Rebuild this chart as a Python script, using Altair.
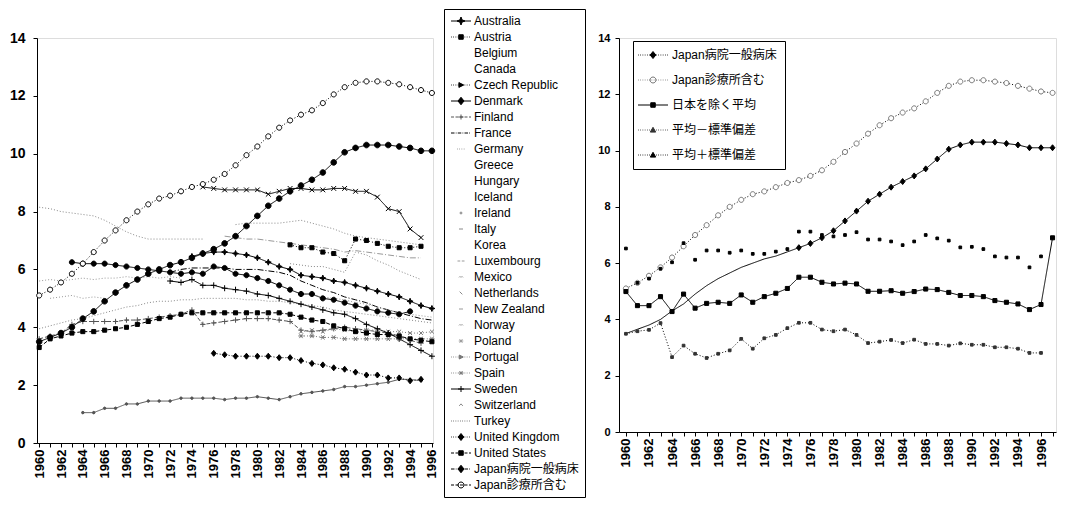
import altair as alt
import pandas as pd

FONT = "Liberation Sans, Noto Sans CJK JP, sans-serif"

# ---------------------------------------------------------------- data
YEARS = list(range(1960, 1998))

JP_HOSP = [3.5, 3.65, 3.8, 4.0, 4.3, 4.55, 4.9, 5.2, 5.45, 5.65,
           5.85, 6.0, 6.15, 6.25, 6.4, 6.55, 6.7, 6.9, 7.15, 7.5,
           7.85, 8.2, 8.45, 8.7, 8.9, 9.1, 9.35, 9.7, 10.05, 10.2,
           10.3, 10.3, 10.3, 10.25, 10.2, 10.1, 10.1, 10.1]
JP_CLINIC = [5.1, 5.3, 5.55, 5.85, 6.2, 6.6, 7.0, 7.35, 7.7, 8.0,
             8.25, 8.45, 8.55, 8.7, 8.85, 8.95, 9.1, 9.3, 9.6, 9.95,
             10.25, 10.6, 10.9, 11.15, 11.35, 11.5, 11.75, 12.05, 12.3, 12.45,
             12.5, 12.5, 12.45, 12.4, 12.3, 12.2, 12.1, 12.05]
MEAN_EX_JAPAN = [4.99, 4.49, 4.49, 4.81, 4.28, 4.9, 4.4, 4.57, 4.61, 4.57,
                 4.87, 4.61, 4.81, 4.93, 5.1, 5.5, 5.5, 5.32, 5.26, 5.29,
                 5.26, 5.0, 5.0, 5.02, 4.93, 4.99, 5.08, 5.06, 4.96, 4.85,
                 4.85, 4.81, 4.67, 4.61, 4.55, 4.35, 4.53, 6.9]
MEAN_MINUS_SD = [3.49, 3.58, 3.63, 3.87, 2.66, 3.07, 2.78, 2.63, 2.78, 2.9,
                 3.31, 2.96, 3.33, 3.45, 3.69, 3.88, 3.88, 3.64, 3.58, 3.64,
                 3.45, 3.16, 3.21, 3.27, 3.16, 3.28, 3.13, 3.13, 3.07, 3.15,
                 3.1, 3.1, 3.01, 3.01, 2.96, 2.81, 2.81]
MEAN_PLUS_SD = [6.52, 5.3, 5.45, 5.8, 6.03, 6.71, 6.12, 6.45, 6.45, 6.37,
                6.45, 6.33, 6.33, 6.41, 6.5, 7.12, 7.12, 7.0, 6.95, 7.0,
                7.1, 6.84, 6.84, 6.77, 6.64, 6.77, 7.0, 6.88, 6.8, 6.56,
                6.58, 6.5, 6.24, 6.2, 6.2, 5.85, 6.24]

# country series: (first year, values)
AUSTRALIA = (1974, [6.45, 6.55, 6.6, 6.6, 6.55, 6.5, 6.4, 6.25, 6.1, 6.0, 5.8, 5.75,
                    5.7, 5.6, 5.55, 5.45, 5.35, 5.25, 5.15, 5.05, 4.9, 4.75, 4.65])
AUSTRIA = (1983, [6.85, 6.75, 6.75, 6.6, 6.55, 6.3, 7.05, 7.0, 6.9, 6.8, 6.75, 6.75, 6.8])
CZECH = (1975, [8.85, 8.8, 8.75, 8.75, 8.75, 8.75, 8.6, 8.7, 8.8, 8.8, 8.75, 8.75, 8.8,
                8.8, 8.7, 8.7, 8.5, 8.1, 8.0, 7.4, 7.1])
DENMARK = (1963, [6.25, 6.2, 6.2, 6.2, 6.15, 6.1, 6.05, 6.0, 5.95, 5.9, 5.85, 5.9, 5.85,
                  6.1, 6.05, 5.85, 5.8, 5.7, 5.6, 5.45, 5.3, 5.15, 5.15, 5.0, 4.95, 4.85,
                  4.75, 4.65, 4.55, 4.5, 4.45, 4.55])
FINLAND = (1960, [3.6, 3.7, 3.8, 4.1, 4.2, 4.2, 4.2, 4.2, 4.25, 4.25, 4.3, 4.35, 4.4, 4.45,
                  4.6, 4.1, 4.15, 4.2, 4.25, 4.3, 4.3, 4.3, 4.25, 4.2, 3.9, 3.85, 3.9, 3.95,
                  4.0, 3.95, 3.9, 3.85, 3.8, 3.7, 3.55, 3.45])
FRANCE = (1972, [5.9, 6.0, 6.05, 6.05, 6.05, 6.05, 6.0, 6.0, 6.0, 5.95, 5.9, 5.8, 5.6, 5.45,
                 5.3, 5.2, 5.05, 4.95, 4.85, 4.7, 4.6, 4.5, 4.4, 4.3, 4.25])
GERMANY = (1978, [7.55, 7.6, 7.6, 7.6, 7.6, 7.65, 7.7, 7.6, 7.5, 7.4, 7.25, 7.15, 7.1, 7.05,
                  7.0, 6.95, 6.9, 6.85])
IRELAND = (1961, [5.0, 5.05, 5.1, 5.0, 5.05, 5.0])
ITALY = (1983, [6.2, 6.15, 6.1, 6.1, 6.0, 5.9, 6.6, 6.5, 6.3, 6.15, 5.95, 5.8, 5.65])
LUXEMBOURG = (1977, [7.15, 7.1, 7.05, 7.05, 7.0, 6.95, 6.9, 6.85, 6.8, 6.75, 6.7, 6.6, 6.65,
                     6.6, 6.55, 6.5, 6.45, 6.4, 6.4])
NETHERLANDS = (1960, [3.95, 4.05, 4.15, 4.25, 4.3, 4.4, 4.5, 4.6, 4.7, 4.75, 4.85, 4.9, 4.9,
                      4.95, 4.95, 5.0, 5.0, 5.0, 5.0, 4.95, 4.95, 4.9, 4.9, 4.85, 4.8, 4.75,
                      4.7, 4.6, 4.55, 4.5, 4.45, 4.4, 4.35, 4.3, 4.25, 4.2, 4.15])
NEW_ZEALAND = (1984, [5.2, 5.1, 5.05, 5.0, 4.95, 4.85, 4.8, 4.7, 4.6, 4.5, 4.45, 4.4, 4.35])
NORWAY = (1960, [5.6, 5.65, 5.6, 5.65, 5.7, 5.65, 5.7, 5.7, 5.75, 5.7, 5.75, 5.7, 5.75, 5.7])
PORTUGAL = (1984, [3.85, 3.9, 3.85, 3.95, 3.9, 3.85, 3.9, 3.9, 3.85, 3.85, 3.8, 3.8, 3.85])
SPAIN = (1984, [3.7, 3.7, 3.65, 3.65, 3.6, 3.6, 3.6, 3.6, 3.6, 3.6, 3.6, 3.6, 3.6])
SWEDEN = (1972, [5.6, 5.55, 5.65, 5.45, 5.45, 5.35, 5.3, 5.25, 5.15, 5.1, 5.0, 4.9, 4.8, 4.7,
                 4.6, 4.5, 4.45, 4.3, 4.1, 3.95, 3.8, 3.6, 3.4, 3.2, 3.0])
SWITZERLAND = (1960, [8.15, 8.1, 8.0, 7.95, 7.9, 7.85, 7.7, 7.5, 7.3, 7.15, 7.05, 7.05, 7.05,
                      7.05, 7.05, 7.05])
TURKEY = (1964, [1.05, 1.05, 1.2, 1.2, 1.35, 1.35, 1.45, 1.45, 1.45, 1.55, 1.55, 1.55, 1.55,
                 1.5, 1.55, 1.55, 1.6, 1.55, 1.5, 1.6, 1.7, 1.75, 1.8, 1.85, 1.95, 1.95, 2.0,
                 2.05, 2.1, 2.2, 2.2, 2.15])
UNITED_KINGDOM = (1976, [3.1, 3.05, 3.0, 3.0, 3.0, 3.0, 2.95, 2.95, 2.85, 2.75, 2.7, 2.6, 2.55,
                         2.45, 2.35, 2.35, 2.25, 2.25, 2.15, 2.2])
UNITED_STATES = (1960, [3.3, 3.6, 3.7, 3.8, 3.85, 3.85, 3.9, 3.95, 4.0, 4.1, 4.2, 4.3, 4.35,
                        4.45, 4.5, 4.5, 4.5, 4.5, 4.5, 4.5, 4.5, 4.5, 4.5, 4.45, 4.35, 4.25,
                        4.2, 4.05, 3.95, 3.85, 3.8, 3.75, 3.75, 3.7, 3.6, 3.55, 3.5])

JP_H = "Japan病院一般病床"
JP_C = "Japan診療所含む"

LEFT_NAMES = ["Australia", "Austria", "Belgium", "Canada", "Czech Republic", "Denmark",
              "Finland", "France", "Germany", "Greece", "Hungary", "Iceland", "Ireland",
              "Italy", "Korea", "Luxembourg", "Mexico", "Netherlands", "New Zealand",
              "Norway", "Poland", "Portugal", "Spain", "Sweden", "Switzerland", "Turkey",
              "United Kingdom", "United States", JP_H, JP_C]
LEFT_SERIES = {
    "Australia": AUSTRALIA, "Austria": AUSTRIA, "Czech Republic": CZECH,
    "Denmark": DENMARK, "Finland": FINLAND, "France": FRANCE, "Germany": GERMANY,
    "Ireland": IRELAND, "Italy": ITALY, "Luxembourg": LUXEMBOURG,
    "Netherlands": NETHERLANDS, "New Zealand": NEW_ZEALAND, "Norway": NORWAY,
    "Portugal": PORTUGAL, "Spain": SPAIN, "Sweden": SWEDEN, "Switzerland": SWITZERLAND,
    "Turkey": TURKEY, "United Kingdom": UNITED_KINGDOM, "United States": UNITED_STATES,
    JP_H: (1960, JP_HOSP), JP_C: (1960, JP_CLINIC),
}

R_MEAN = "日本を除く平均"
R_MINUS = "平均－標準偏差"
R_PLUS = "平均＋標準偏差"
RIGHT_NAMES = [JP_H, JP_C, R_MEAN, R_MINUS, R_PLUS]
RIGHT_SERIES = {JP_H: (1960, JP_HOSP), JP_C: (1960, JP_CLINIC), R_MEAN: (1960, MEAN_EX_JAPAN),
                R_MINUS: (1960, MEAN_MINUS_SD), R_PLUS: (1960, MEAN_PLUS_SD)}

# ---------------------------------------------------------------- styles
# (line dash, colour, plot marker, plot marker scale, legend line, legend marker, legend marker scale)
NONE_STYLE = (None, "#999", None, 0, None, None, 0)
LEFT_STYLE = {
    "Australia": ("solid", "#000", "star", 1.0, "solid", "star", 0.8),
    "Austria": ("dot", "#000", "square", 0.9, "dot", "square", 0.6),
    "Czech Republic": ("solid", "#000", "x", 1.0, "dot", "tri_right", 0.6),
    "Denmark": ("solid", "#000", "disc", 1.0, "solid", "diamond", 0.75),
    "Finland": ("dash", "#555", "plus", 0.9, "dash", "plus", 0.5),
    "France": ("dashdot", "#000", None, 0, "dashdot", None, 0),
    "Germany": ("dot", "#888", None, 0, "dotshort", None, 0),
    "Ireland": ("dot", "#999", None, 0, None, "dot", 0.35),
    "Italy": ("dot", "#888", None, 0, None, "minus", 0.4),
    "Luxembourg": ("dashdot", "#999", None, 0, None, "dash2", 0.5),
    "Mexico": (None, "#999", None, 0, None, "tilde", 0.4),
    "Netherlands": ("dot", "#888", None, 0, None, "bslash", 0.45),
    "New Zealand": ("dot", "#999", None, 0, None, "minus", 0.4),
    "Norway": ("dot", "#999", None, 0, None, "tilde", 0.4),
    "Poland": (None, "#999", None, 0, None, "asterisk", 0.45),
    "Portugal": ("dot", "#777", "x", 0.8, "dot", "tri_right", 0.5),
    "Spain": ("dot", "#777", "asterisk", 0.9, "dot", "asterisk", 0.5),
    "Sweden": ("solid", "#000", "plus", 1.0, "solid", "plus", 0.6),
    "Switzerland": ("dot", "#888", None, 0, None, "caret", 0.45),
    "Turkey": ("solid", "#555", "dot", 0.7, "dot", None, 0),
    "United Kingdom": ("dot", "#000", "diamond", 1.0, "dot", "diamond", 0.7),
    "United States": ("dash", "#000", "square", 0.9, "dash", "square", 0.6),
    JP_H: ("solid", "#000", "disc", 1.1, "dashdot", "diamond", 0.75),
    JP_C: ("dot", "#000", "ring", 1.0, "dash", "ring", 0.7),
}
RIGHT_STYLE = {
    JP_H: ("dot", "#000", "diamond", 1.0, "dot", "diamond", 0.7),
    JP_C: ("dot", "#777", "ring", 1.0, "dot", "ring", 0.7),
    R_MEAN: ("solid", "#000", "square", 0.9, "solid", "square", 0.6),
    R_MINUS: ("dot", "#333", "square", 0.6, "dot", "tri_up", 0.6),
    R_PLUS: (None, "#000", "square", 0.6, "dot", "tri_up", 0.6),
}

DASHES = {"solid": [1, 0], "dot": [1, 2], "dash": [4, 2], "dashdot": [6, 2, 1, 2], None: [1, 0]}
FILLED = {"diamond", "square", "star", "tri_right", "tri_up", "dot", "disc"}


def seg_path(kind, x0, x1):
    if kind is None:
        return ""
    if kind == "solid":
        return f"M{x0:.2f},0L{x1:.2f},0"
    pats = {"dot": [0.15, 0.3], "dotshort": [0.15, 0.3], "dash": [0.6, 0.3],
            "dashdot": [0.7, 0.25, 0.15, 0.25]}
    pat = pats[kind]
    out, x, i = [], x0, 0
    while x < x1 - 1e-9:
        e = min(x + pat[i % len(pat)], x1)
        if i % 2 == 0:
            out.append(f"M{x:.2f},0L{e:.2f},0")
        x, i = e, i + 1
    return "".join(out)


def mk_path(kind, c, m):
    if kind is None or m == 0:
        return ""

    def P(x, y):
        return f"{c + x * m:.3f},{y * m:.3f}"
    polys = {
        "diamond": [(0, -1), (0.8, 0), (0, 1), (-0.8, 0)],
        "square": [(-0.75, -0.75), (0.75, -0.75), (0.75, 0.75), (-0.75, 0.75)],
        "star": [(0, -1), (0.28, -0.28), (1, 0), (0.28, 0.28), (0, 1), (-0.28, 0.28),
                 (-1, 0), (-0.28, -0.28)],
        "tri_right": [(-0.7, -0.8), (0.9, 0), (-0.7, 0.8)],
        "tri_up": [(0, -0.9), (0.9, 0.7), (-0.9, 0.7)],
    }
    if kind in polys:
        return "M" + "L".join(P(*p) for p in polys[kind]) + "Z"
    if kind in ("disc", "ring", "dot"):
        r = {"disc": 0.85, "ring": 0.85, "dot": 0.6}[kind]
        rr = r * m
        return (f"M{P(-r, 0)}A{rr:.3f},{rr:.3f} 0 1,0 {P(r, 0)}"
                f"A{rr:.3f},{rr:.3f} 0 1,0 {P(-r, 0)}Z")
    strokes = {
        "plus": [[(-1, 0), (1, 0)], [(0, -1), (0, 1)]],
        "x": [[(-0.8, -0.8), (0.8, 0.8)], [(-0.8, 0.8), (0.8, -0.8)]],
        "asterisk": [[(-1, 0), (1, 0)], [(-0.6, -0.8), (0.6, 0.8)], [(-0.6, 0.8), (0.6, -0.8)]],
        "minus": [[(-1, 0), (1, 0)]],
        "tilde": [[(-1, 0.2), (-0.5, -0.3), (0, 0.2), (0.5, -0.3), (1, 0.2)]],
        "caret": [[(-0.8, 0.4), (0, -0.5), (0.8, 0.4)]],
        "bslash": [[(-0.6, -0.6), (0.6, 0.6)]],
        "dash2": [[(-1.4, 0), (-0.3, 0)], [(0.3, 0), (1.4, 0)]],
    }
    return "".join("M" + "L".join(P(*p) for p in poly) for poly in strokes[kind])


def fill_for(kind, color):
    if kind in FILLED:
        return color
    if kind == "ring":
        return "#ffffff"
    return "transparent"


def build_df(series, names, styles, max_year):
    rows = []
    for name in names:
        if name not in series:
            continue
        st = styles[name]
        start, vals = series[name]
        for i, v in enumerate(vals):
            yr = start + i
            if yr <= max_year:
                rows.append({"series": name, "year": yr, "value": v,
                             "ln": 1 if st[0] else 0, "mk": 1 if st[2] else 0})
    return pd.DataFrame(rows)


def panel(series, names, styles, max_year, x_dom, tick_years, width, height,
          y_label_size, leg_x, leg_y, leg_x0, leg_x1, leg_c, leg_font, leg_row_pad,
          leg_pad, leg_label_offset, point_filter):
    sty = [styles.get(n, NONE_STYLE) for n in names]
    df = build_df(series, names, {n: s for n, s in zip(names, sty)}, max_year)

    x = alt.X("year:Q", scale=alt.Scale(domain=x_dom, nice=False, zero=False),
              axis=alt.Axis(values=tick_years, format="d",
                            labelExpr="datum.value % 2 == 0 ? datum.label : ''",
                            labelAngle=-90, labelFontSize=13, labelFontWeight="bold",
                            labelFont=FONT, labelColor="#000", tickSize=4, tickColor="#000",
                            domainColor="#000", labelPadding=2, labelOverlap=False,
                            labelFlush=False, grid=False, title=None))
    y = alt.Y("value:Q", scale=alt.Scale(domain=[0, 14], nice=False, zero=True),
              axis=alt.Axis(values=list(range(0, 15, 2)), format="d",
                            labelFontSize=y_label_size, labelFontWeight="bold",
                            labelFont=FONT, labelColor="#000", tickSize=4, tickColor="#000",
                            domainColor="#000", labelPadding=8 if y_label_size > 12 else 5,
                            grid=False, title=None))

    line_colors = [s[1] for s in sty]
    dashes = [DASHES[s[0]] for s in sty]
    mk_shapes = [mk_path(s[2], 0, s[3]) or "M0,0" for s in sty]
    mk_fill = [fill_for(s[2], s[1]) for s in sty]
    mk_stroke = [s[1] if s[2] else "transparent" for s in sty]

    lg_shapes = []
    lg_fill = []
    lg_stroke = []
    for s in sty:
        p = seg_path(s[4], leg_c - 0.8, leg_c + 0.8) if s[4] == "dotshort" else seg_path(s[4], leg_x0, leg_x1)
        p += mk_path(s[5], leg_c, s[6])
        lg_shapes.append(p or "M0,0")
        lg_fill.append(fill_for(s[5], s[1]))
        lg_stroke.append(s[1] if (s[4] or s[5]) else "transparent")

    lines = alt.Chart(df).transform_filter("datum.ln == 1").mark_line(strokeWidth=1).encode(
        x=x, y=y,
        color=alt.Color("series:N", scale=alt.Scale(domain=names, range=line_colors), legend=None),
        strokeDash=alt.StrokeDash("series:N", scale=alt.Scale(domain=names, range=dashes),
                                  legend=None),
    )
    points = alt.Chart(df).transform_filter(point_filter).mark_point(
        size=36, opacity=1, strokeWidth=1).encode(
        x=x, y=y,
        shape=alt.Shape("series:N", scale=alt.Scale(domain=names, range=mk_shapes), legend=None),
        fill=alt.Fill("series:N", scale=alt.Scale(domain=names, range=mk_fill), legend=None),
        stroke=alt.Stroke("series:N", scale=alt.Scale(domain=names, range=mk_stroke), legend=None),
    )
    leg = alt.Legend(orient="none", legendX=leg_x, legendY=leg_y, title=None,
                     labelFont=FONT, labelFontSize=leg_font, labelColor="#000",
                     symbolSize=100, symbolStrokeWidth=1, rowPadding=leg_row_pad,
                     padding=leg_pad, strokeColor="#000", fillColor="#fff",
                     labelOffset=leg_label_offset, labelLimit=300, symbolLimit=60,
                     direction="vertical")
    legend_layer = alt.Chart(df).transform_filter("false").mark_point(
        size=100, opacity=1, strokeWidth=1).encode(
        x=x, y=y,
        shape=alt.Shape("series:N", scale=alt.Scale(domain=names, range=lg_shapes), legend=leg),
        fill=alt.Fill("series:N", scale=alt.Scale(domain=names, range=lg_fill), legend=leg),
        stroke=alt.Stroke("series:N", scale=alt.Scale(domain=names, range=lg_stroke), legend=leg),
    )
    return alt.layer(lines, points, legend_layer).resolve_scale(
        shape="independent", fill="independent", stroke="independent"
    ).properties(width=width, height=height)


left = panel(LEFT_SERIES, LEFT_NAMES, LEFT_STYLE, 1996, [1959.8, 1996.1],
             list(range(1960, 1997)), 396, 405, 14,
             leg_x=407, leg_y=-29, leg_x0=-1, leg_x1=3, leg_c=1, leg_font=12,
             leg_row_pad=4, leg_pad=6, leg_label_offset=12,
             point_filter="datum.mk == 1")

right = panel(RIGHT_SERIES, RIGHT_NAMES, RIGHT_STYLE, 1997, [1959.4, 1997.3],
              list(range(1960, 1998)), 437, 394, 11,
              leg_x=14, leg_y=3, leg_x0=-1.8, leg_x1=4.2, leg_c=1.2, leg_font=12,
              leg_row_pad=13, leg_pad=8, leg_label_offset=19,
              point_filter="datum.mk == 1 && !(datum.series == '" + JP_H + "' && datum.year < 1975)")

chart = alt.hconcat(left, right, spacing=186, bounds="flush").properties(
    padding=0
).configure_view(stroke=None).configure(font=FONT)

chart.save("out.html", embed_options={"renderer": "svg", "actions": False})
